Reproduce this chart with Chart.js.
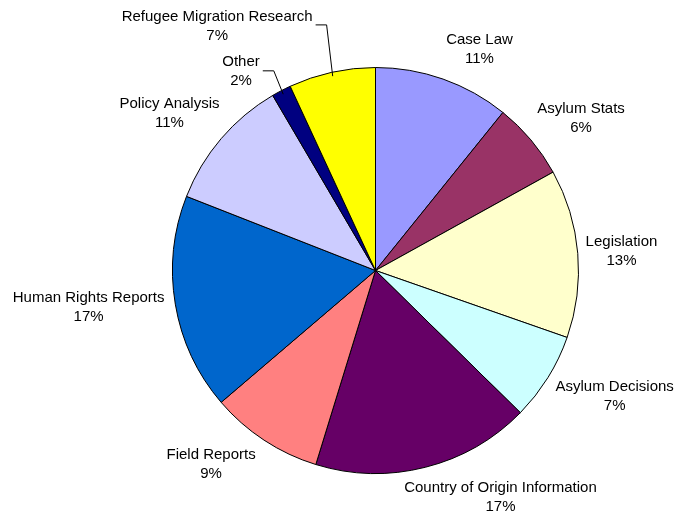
<!DOCTYPE html>
<html>
<head>
<meta charset="utf-8">
<script src="https://cdn.jsdelivr.net/npm/chart.js@4/dist/chart.umd.min.js"></script>
<style>
  html, body { margin: 0; padding: 0; background: #ffffff; }
  #c { display: block; }
</style>
</head>
<body>
<canvas id="c" width="675" height="517"></canvas>
<script>
// ---- data ----
const categories = [
  "Case Law",
  "Asylum Stats",
  "Legislation",
  "Asylum Decisions",
  "Country of Origin Information",
  "Field Reports",
  "Human Rights Reports",
  "Policy Analysis",
  "Other",
  "Refugee Migration Research"
];
const values = [10.8, 6.15, 13.4, 7.0, 17.4, 9.0, 17.2, 10.6, 1.55, 6.9];
const colors = [
  "#9999FF", "#993366", "#FFFFCC", "#CCFFFF", "#660066",
  "#FF8080", "#0066CC", "#CCCCFF", "#000080", "#FFFF00"
];

// label placement tweaks (style/layout, not data)
const labelNudges = [
  [22, -3], [9, -4], [-2, 0], [8, 4], [49, 3],
  [-23, 1], [-2, -1], [-6, -7], [-27, 6], [-92, -19]
];
const labelLeaders = [false, false, false, false, false, false, false, false, true, true];

const pieLabels = {
  id: 'pieLabels',
  afterDatasetsDraw(chart) {
    const ctx = chart.ctx;
    const meta = chart.getDatasetMeta(0);
    const total = values.reduce((a, b) => a + b, 0);
    ctx.save();
    ctx.font = '15px "Liberation Sans", Arial, sans-serif';
    ctx.fillStyle = '#000000';
    ctx.textAlign = 'center';
    ctx.textBaseline = 'middle';
    meta.data.forEach((arc, i) => {
      const p = arc.getProps(['x', 'y', 'startAngle', 'endAngle', 'outerRadius'], true);
      const mid = (p.startAngle + p.endAngle) / 2;
      const ux = Math.cos(mid), uy = Math.sin(mid);
      const line1 = categories[i];
      const line2 = Math.round(values[i] / total * 100) + '%';
      const w = Math.max(ctx.measureText(line1).width, ctx.measureText(line2).width);
      const R = p.outerRadius + 10;
      let cx = p.x + R * ux + (w / 2) * ux + labelNudges[i][0];
      let cy = p.y + R * uy + 18 * uy + labelNudges[i][1];
      ctx.fillText(line1, cx, cy - 9.5);
      ctx.fillText(line2, cx, cy + 9.5);
      if (labelLeaders[i]) {
        const right = cx + ctx.measureText(line1).width / 2;
        const ly = cy - 1;
        const rr = p.outerRadius - 4;
        ctx.beginPath();
        ctx.strokeStyle = '#000000';
        ctx.lineWidth = 1;
        ctx.moveTo(right + 3, ly);
        ctx.lineTo(right + 14, ly);
        ctx.lineTo(p.x + rr * ux, p.y + rr * uy);
        ctx.stroke();
      }
    });
    ctx.restore();
  }
};

new Chart(document.getElementById('c'), {
  type: 'pie',
  data: {
    labels: categories,
    datasets: [{
      data: values,
      backgroundColor: colors,
      borderColor: '#000000',
      borderWidth: 1
    }]
  },
  options: {
    responsive: false,
    animation: false,
    layout: { padding: { left: 172, right: 96, top: 67, bottom: 43 } },
    plugins: {
      legend: { display: false },
      tooltip: { enabled: false },
      title: { display: false }
    }
  },
  plugins: [pieLabels]
});
</script>
</body>
</html>
